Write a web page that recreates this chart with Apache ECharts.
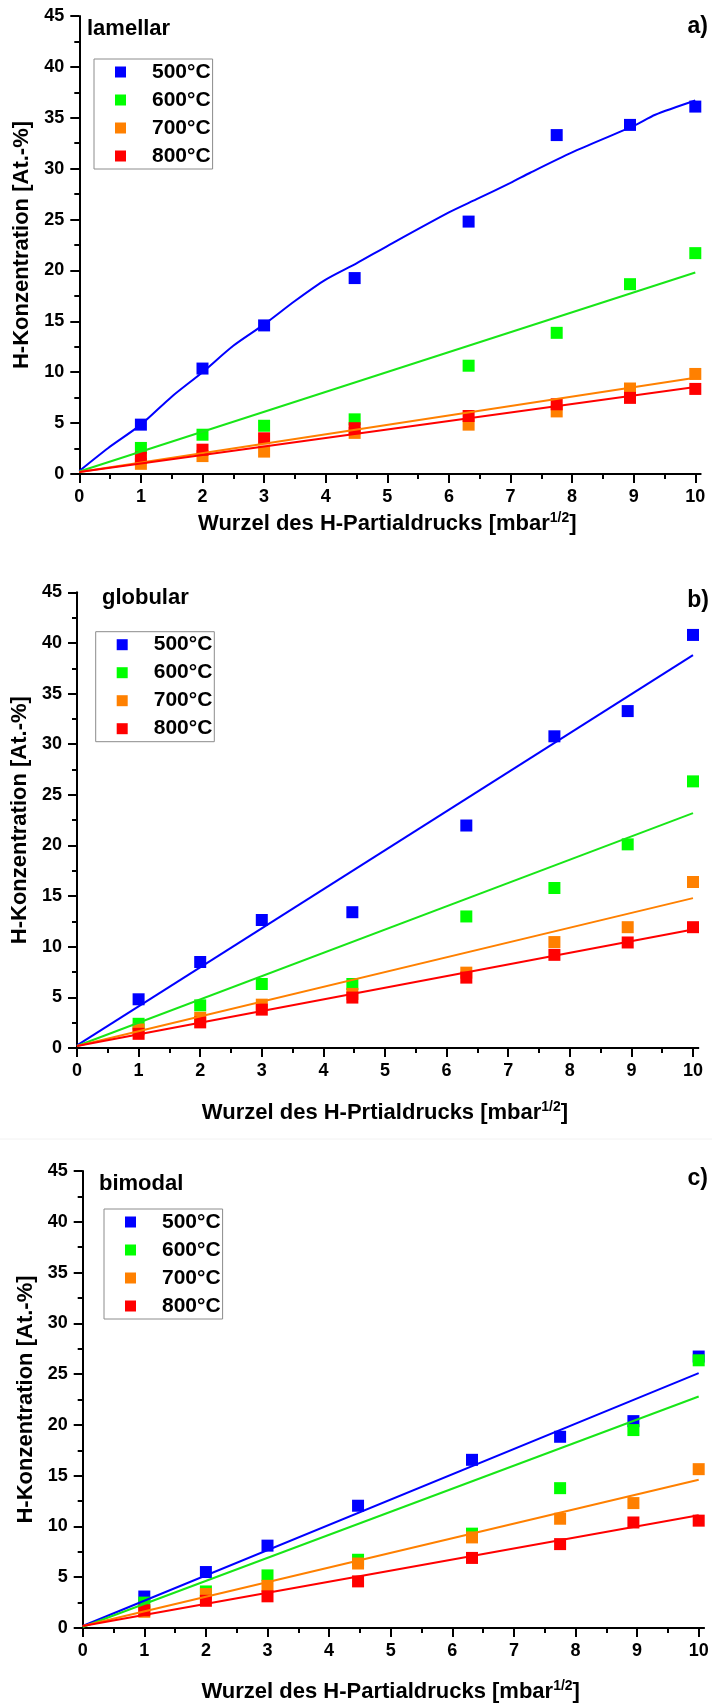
<!DOCTYPE html>
<html>
<head>
<meta charset="utf-8">
<script src="https://cdn.jsdelivr.net/npm/echarts@6/dist/echarts.min.js"></script>
<style>
  html, body { margin: 0; padding: 0; background: #ffffff; }
  #chart { width: 712px; height: 1704px; }
</style>
</head>
<body>
<div id="chart"></div>
<script>
// Hydrogen uptake vs. square root of the H partial pressure, three microstructures.
const FONT = '"Liberation Sans", Arial, Helvetica, sans-serif';
const NARROW = '"Liberation Sans Narrow", "Arial Narrow", "Liberation Sans", Arial, sans-serif';

const seriesNames = ['500°C', '600°C', '700°C', '800°C'];
const markerColors = ['#0000ff', '#00ff00', '#ff8000', '#ff0000'];
const lineColors = ['#0000ff', '#18e618', '#ff8000', '#ff0000'];

// sqrt of partial pressure for 1, 4, 9, 20, 40, 60, 80, 100 mbar
const sqrtPressure = [1, 2, 3, 4.47, 6.32, 7.75, 8.94, 10];
const xTicks = [0, 1, 2, 3, 4, 5, 6, 7, 8, 9, 10];
const yTicks = [0, 5, 10, 15, 20, 25, 30, 35, 40, 45];

// a) lamellar
const lamellar500 = [4.85, 10.36, 14.6, 19.25, 24.8, 33.3, 34.3, 36.1];
const lamellar600 = [2.56, 3.86, 4.74, 5.37, 10.64, 13.87, 18.65, 21.7];
const lamellar700 = [1.0, 1.76, 2.2, 4.04, 4.85, 6.15, 8.4, 9.83];
const lamellar800 = [1.6, 2.39, 3.51, 4.5, 5.7, 6.85, 7.48, 8.36];
// fitted curve for 500°C (non-linear)
const lamellarFit500X = [0, 0.47, 1, 1.5, 2, 2.5, 3, 3.5, 4, 4.5, 5, 6, 6.45, 7, 7.32, 8, 9, 9.35, 10];
const lamellarFit500Y = [0.3, 2.56, 4.85, 7.6, 10.0, 12.6, 14.7, 17.0, 19.1, 20.7, 22.4, 25.7, 27.0, 28.6, 29.6, 31.6, 34.2, 35.3, 36.7];
// straight fits: values at x = 0 and x = 10
const fitEnds = [0, 10];
const lamellarFit600 = [0.25, 19.8];
const lamellarFit700 = [0.2, 9.45];
const lamellarFit800 = [0.2, 8.55];

// b) globular
const globular500 = [4.81, 8.49, 12.64, 13.41, 21.97, 30.78, 33.27, 40.79];
const globular600 = [2.39, 4.21, 6.32, 6.32, 12.99, 15.8, 20.11, 26.33];
const globular700 = [1.83, 2.98, 4.28, 5.34, 7.44, 10.46, 11.93, 16.39];
const globular800 = [1.4, 2.53, 3.79, 4.98, 6.95, 9.2, 10.42, 11.93];
const globularFit500 = [0.25, 38.8];
const globularFit600 = [0.2, 23.2];
const globularFit700 = [0.2, 14.8];
const globularFit800 = [0.2, 11.7];

// c) bimodal
const bimodal500 = [3.1, 5.51, 8.11, 12.04, 16.56, 18.83, 20.37, 26.73];
const bimodal600 = [2.5, 3.6, 5.18, 6.72, 9.29, 13.77, 19.49, 26.36];
const bimodal700 = [1.6, 3.34, 4.15, 6.35, 8.92, 10.76, 12.3, 15.64];
const bimodal800 = [1.75, 2.68, 3.12, 4.59, 6.9, 8.26, 10.39, 10.57];
const bimodalFit500 = [0.2, 25.1];
const bimodalFit600 = [0.1, 22.8];
const bimodalFit700 = [0.2, 14.6];
const bimodalFit800 = [0.2, 11.1];

const pair = (xs, ys) => xs.map((x, i) => [x, ys[i]]);

const panels = [
  {
    tag: 'lamellar', letter: 'a)',
    xName: 'Wurzel des H-Partialdrucks [mbar',
    points: [lamellar500, lamellar600, lamellar700, lamellar800],
    fits: [pair(lamellarFit500X, lamellarFit500Y), pair(fitEnds, lamellarFit600),
           pair(fitEnds, lamellarFit700), pair(fitEnds, lamellarFit800)],
    smooth: [0.25, 0, 0, 0],
    grid: { left: 79.3, top: 16, width: 616, height: 458 },
    xNameGap: 37, tagPos: [87, 28.5], letterPos: [708, 27], legendPos: [94, 59]
  },
  {
    tag: 'globular', letter: 'b)',
    xName: 'Wurzel des H-Prtialdrucks [mbar',
    points: [globular500, globular600, globular700, globular800],
    fits: [pair(fitEnds, globularFit500), pair(fitEnds, globularFit600),
           pair(fitEnds, globularFit700), pair(fitEnds, globularFit800)],
    smooth: [0, 0, 0, 0],
    grid: { left: 77, top: 592.3, width: 616, height: 455.7 },
    xNameGap: 52, tagPos: [102, 597.5], letterPos: [709, 600.7], legendPos: [95.7, 631.7]
  },
  {
    tag: 'bimodal', letter: 'c)',
    xName: 'Wurzel des H-Partialdrucks [mbar',
    points: [bimodal500, bimodal600, bimodal700, bimodal800],
    fits: [pair(fitEnds, bimodalFit500), pair(fitEnds, bimodalFit600),
           pair(fitEnds, bimodalFit700), pair(fitEnds, bimodalFit800)],
    smooth: [0, 0, 0, 0],
    grid: { left: 82.7, top: 1171, width: 616, height: 457.3 },
    xNameGap: 51, tagPos: [99, 1183.5], letterPos: [708, 1179], legendPos: [104, 1209]
  }
];

const axisLineStyle = { color: '#000', width: 2 };
const tickLabel = { fontFamily: NARROW, fontSize: 18, fontWeight: 'bold', color: '#000' };

const option = {
  animation: false,
  backgroundColor: '#ffffff',
  grid: [], xAxis: [], yAxis: [], legend: [], series: []
};

panels.forEach((p, i) => {
  option.grid.push(Object.assign({ containLabel: false }, p.grid));
  option.xAxis.push({
    type: 'value', gridIndex: i, min: xTicks[0], max: xTicks[xTicks.length - 1], interval: 1,
    z: 1,
    name: '{n|' + p.xName + '}{s|1/2}{n|]}',
    nameLocation: 'middle', nameGap: p.xNameGap,
    nameTextStyle: {
      rich: {
        n: { fontFamily: FONT, fontSize: 22, fontWeight: 'bold', color: '#000', lineHeight: 26 },
        s: { fontFamily: FONT, fontSize: 14, fontWeight: 'bold', color: '#000', lineHeight: 14, verticalAlign: 'top' }
      }
    },
    axisLine: { show: true, onZero: false, lineStyle: axisLineStyle },
    axisTick: { show: true, inside: false, length: 9, lineStyle: axisLineStyle },
    minorTick: { show: true, splitNumber: 2, length: 5, lineStyle: axisLineStyle },
    axisLabel: Object.assign({ margin: 14 }, tickLabel),
    splitLine: { show: false }
  });
  option.yAxis.push({
    type: 'value', gridIndex: i, min: yTicks[0], max: yTicks[yTicks.length - 1], interval: 5,
    z: 1,
    name: 'H-Konzentration [At.-%]',
    nameLocation: 'middle', nameGap: 42,
    nameTextStyle: { fontFamily: FONT, fontSize: 22, fontWeight: 'bold', color: '#000' },
    axisLine: { show: true, onZero: false, lineStyle: axisLineStyle },
    axisTick: { show: true, inside: false, length: 9, lineStyle: axisLineStyle },
    minorTick: { show: true, splitNumber: 2, length: 5, lineStyle: axisLineStyle },
    axisLabel: Object.assign({ margin: 15 }, tickLabel),
    splitLine: { show: false }
  });
  option.legend.push({
    orient: 'vertical',
    left: p.legendPos[0], top: p.legendPos[1],
    data: seriesNames,
    icon: 'rect', itemWidth: 11, itemHeight: 11, itemGap: 4,
    padding: [1, 2, 1, 21],
    borderColor: '#8c8c8c', borderWidth: 1,
    selectedMode: false,
    itemStyle: { opacity: 1 },
    textStyle: { fontFamily: FONT, fontSize: 21, fontWeight: 'bold', color: '#000', lineHeight: 24, padding: [0, 0, 0, 21] }
  });
  // measured points
  p.points.forEach((vals, k) => {
    option.series.push({
      type: 'scatter', name: seriesNames[k], xAxisIndex: i, yAxisIndex: i,
      symbol: 'rect', symbolSize: 12,
      itemStyle: { color: markerColors[k], opacity: 1 },
      emphasis: { disabled: true },
      data: pair(sqrtPressure, vals), z: 3
    });
  });
  // fitted lines
  p.fits.forEach((pts, k) => {
    option.series.push({
      type: 'line', name: seriesNames[k] + ' Fit', xAxisIndex: i, yAxisIndex: i,
      showSymbol: false, symbol: 'none', smooth: p.smooth[k],
      lineStyle: { color: lineColors[k], width: 2 },
      data: pts, z: 4, silent: true
    });
  });
});

const chart = echarts.init(document.getElementById('chart'), null, { renderer: 'canvas' });
chart.setOption(option);

// panel captions, axis stubs past the last tick and the faint panel divider
const elements = [];
panels.forEach((p, i) => {
  elements.push({
    type: 'text', x: p.tagPos[0], y: p.tagPos[1],
    style: { text: p.tag, font: 'bold 22px ' + FONT, fill: '#000', textAlign: 'left', textVerticalAlign: 'middle', align: 'left', verticalAlign: 'middle' }
  });
  elements.push({
    type: 'text', x: p.letterPos[0], y: p.letterPos[1],
    style: { text: p.letter, font: 'bold 23px ' + FONT, fill: '#000', textAlign: 'right', textVerticalAlign: 'middle', align: 'right', verticalAlign: 'middle' }
  });
  const a = chart.convertToPixel({ gridIndex: i }, [10, 0]);
  const b = chart.convertToPixel({ gridIndex: i }, [10.1, 0]);
  elements.push({
    type: 'line', shape: { x1: a[0], y1: a[1], x2: b[0], y2: b[1] },
    style: { stroke: '#000', lineWidth: 2 }
  });
});
elements.push({
  type: 'line', shape: { x1: 0, y1: 1139, x2: 712, y2: 1139 },
  style: { stroke: '#f2f2f2', lineWidth: 1 }, z: -1
});
chart.setOption({ graphic: { elements: elements } });
</script>
</body>
</html>
